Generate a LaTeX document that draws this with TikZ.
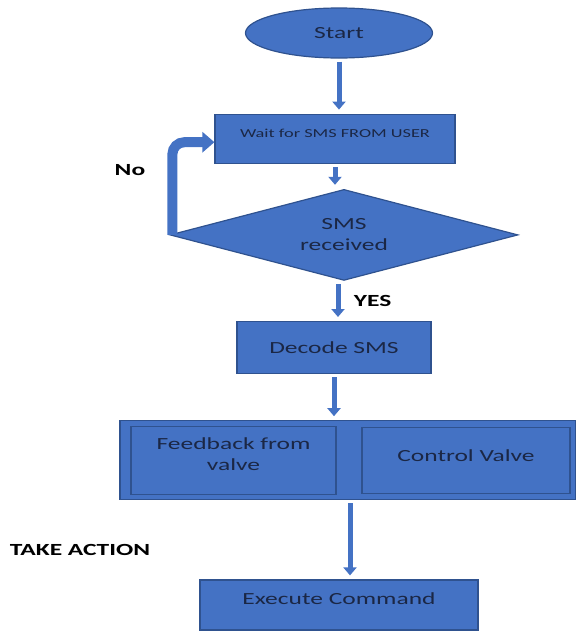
\documentclass[tikz,border=0pt]{standalone}
\usepackage{fontspec}
\setmainfont{Carlito}[FakeStretch=1.5]
\usetikzlibrary{arrows.meta, positioning, shapes.geometric}
\definecolor{shapeblue}{HTML}{4472C4}
\definecolor{edgeblue}{HTML}{2F528F}
\definecolor{inkblue}{HTML}{1B2745}

\begin{document}
\begin{tikzpicture}[
    node distance=40pt,
    every node/.style={align=center, font=\fontsize{17}{21}\selectfont, text=inkblue},
    box/.style={draw=edgeblue, line width=1.2pt, fill=shapeblue, inner sep=0pt},
    oval/.style={box, ellipse, minimum width=187pt, minimum height=50pt},
    decision/.style={box, diamond, aspect=3.8, minimum width=348pt, minimum height=91pt},
    arrow/.style={-{Triangle[width=13pt,length=8pt]}, line width=5pt, draw=shapeblue, shorten <=3pt, shorten >=4pt},
    looparrow/.style={-{Triangle[width=20pt,length=12pt]}, line width=10pt, draw=shapeblue, rounded corners=12pt},
    tag/.style={font=\bfseries\fontsize{17}{21}\selectfont, text=black}
]
\useasboundingbox (0,0) rectangle (576pt,-643pt);

% Start and waiting loop
\node[oval] (start) at (339pt,-33pt) {Start};
\node[box, minimum width=240pt, minimum height=49pt, below=55pt of start, xshift=-4pt,
      text depth=10pt, font=\fontsize{12.2}{14}\selectfont] (wait) {Wait for SMS FROM USER};
\node[decision, below=25pt of wait, xshift=9pt] (sms) {SMS\\received};

\draw[arrow] (start.south) -- (start.south |- wait.north);
\draw[arrow] (wait.south) -- (wait.south |- sms.north);

% No branch back to waiting
\draw[looparrow] ([xshift=3pt]sms.west) |- ([yshift=-3.5pt]wait.west);
\node[tag] (no) at (130pt,-170pt) {No};

% Decode
\node[box, minimum width=194pt, minimum height=52pt, below=40pt of sms, xshift=-10pt] (decode) {Decode SMS};
\draw[arrow] ([xshift=-6pt]sms.south) -- ([xshift=-6pt]sms.south |- decode.north)
    node[midway, right=10pt, tag] (yes) {YES};

% Action block
\node[box, minimum width=456pt, minimum height=79pt, below=46pt of decode, xshift=14pt] (action) {};
\node[box, minimum width=205pt, minimum height=68pt, text depth=12pt, right=11pt of action.west] (feedback) {Feedback from\\valve};
\node[box, minimum width=208pt, minimum height=66pt, text depth=10pt, left=6pt of action.east] (valve) {Control Valve};
\draw[arrow] (decode.south) -- (decode.south |- action.north);

\node[tag] (take) at (80pt,-550pt) {TAKE ACTION};

% Execute
\node[box, minimum width=278pt, minimum height=50pt, text depth=12pt, below=79pt of action, xshift=-9pt] (execute) {Execute Command};
\draw[arrow] ([xshift=2pt]action.south) -- ([xshift=2pt]action.south |- execute.north);

\end{tikzpicture}
\end{document}
